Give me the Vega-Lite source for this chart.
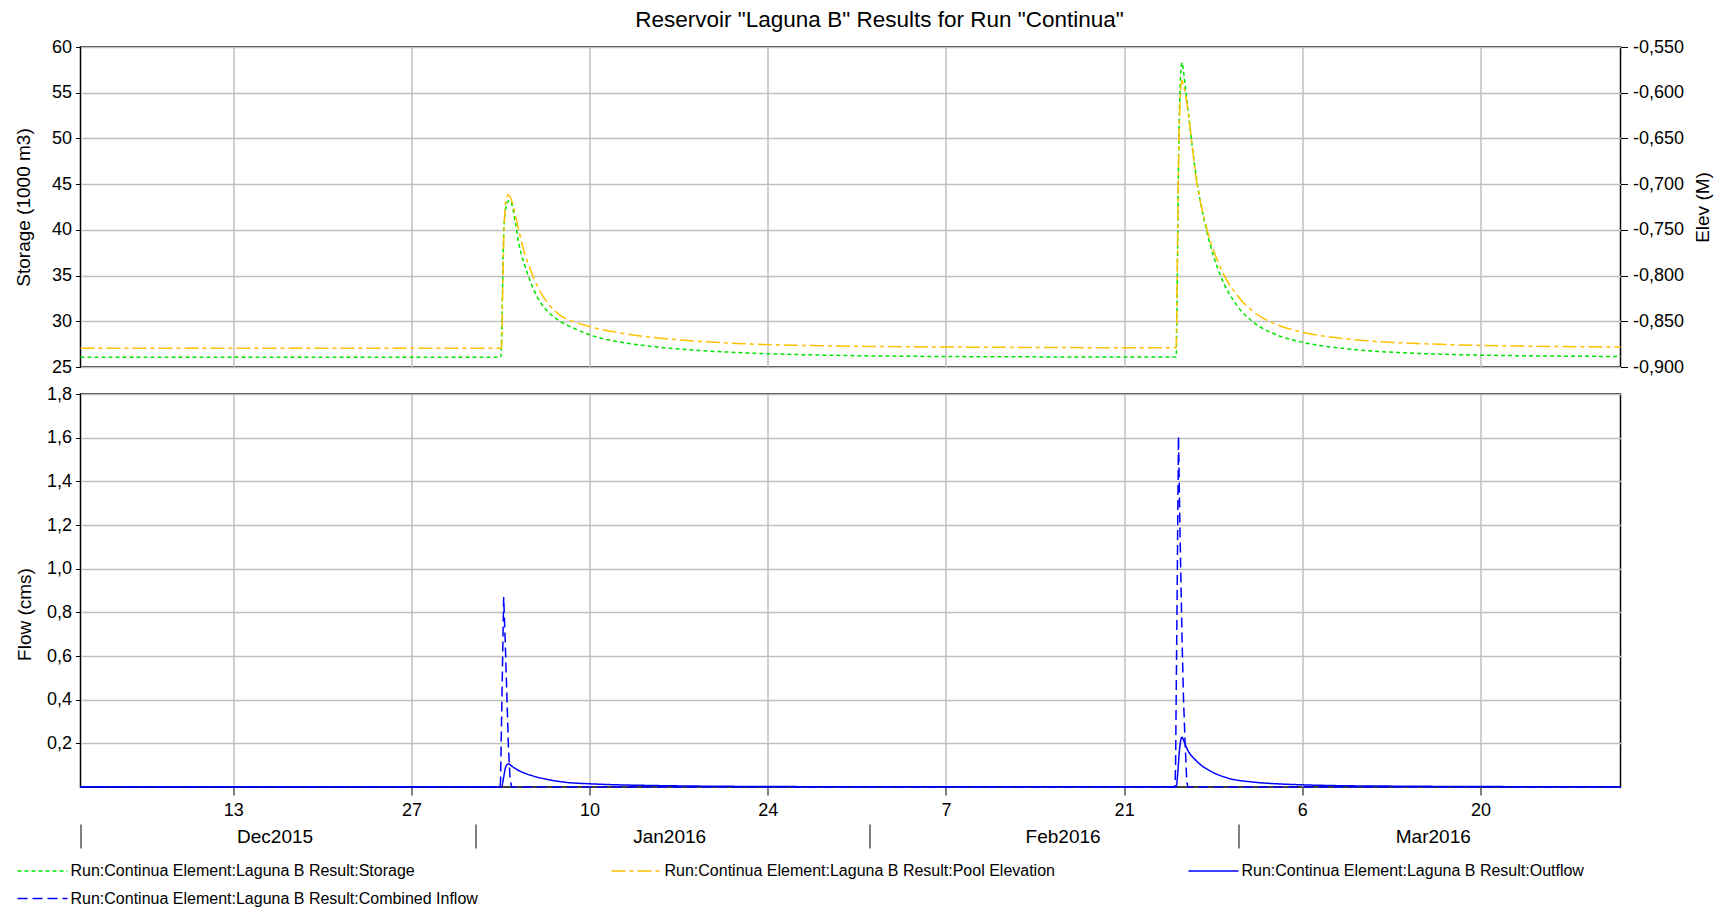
{
  "$schema": "https://vega.github.io/schema/vega-lite/v6.json",
  "padding": {"left": 13.5, "right": 8, "top": 8, "bottom": 0},
  "title": {"text": "Reservoir \"Laguna B\" Results for Run \"Continua\"", "fontSize": 22.5, "font": "Liberation Sans", "fontWeight": "normal", "color": "black", "anchor": "middle", "offset": 6, "dx": 16},
  "config": {
    "locale": {"number": {"decimal": ",", "thousands": ".", "grouping": [3], "currency": ["", ""], "minus": "-"}},
    "font": "Liberation Sans",
    "view": {"stroke": "black", "strokeWidth": 1.5},
    "axis": {"labelFont": "Liberation Sans", "labelFontSize": 18, "labelColor": "black", "titleFont": "Liberation Sans", "titleFontSize": 19, "titleFontWeight": "normal", "titleColor": "black", "tickColor": "black", "tickWidth": 1, "domain": false, "gridColor": "#c0c0c0", "gridWidth": 1.5, "gridOpacity": 1},
    "legend": {"orient": "none", "legendX": -64, "legendY": 816, "direction": "horizontal", "columns": 3, "symbolType": "stroke", "symbolSize": 2500, "symbolStrokeWidth": 1.5, "clipHeight": 16, "labelFontSize": 16, "labelFont": "Liberation Sans", "labelColor": "black", "labelLimit": 1000, "columnPadding": 132, "rowPadding": 11.5, "labelOffset": 2}
  },
  "spacing": 7,
  "vconcat": [
    {
      "width": 1540,
      "height": 320,
      "encoding": {
        "x": {"field": "t", "type": "temporal", "scale": {"domain": [{"year": 2015, "month": 12, "date": 1}, {"year": 2016, "month": 3, "date": 31}]},
          "axis": {"title": null, "labels": false, "ticks": false, "domain": false, "grid": true,
            "values": [{"year": 2015, "month": 12, "date": 13}, {"year": 2015, "month": 12, "date": 27}, {"year": 2016, "month": 1, "date": 10}, {"year": 2016, "month": 1, "date": 24}, {"year": 2016, "month": 2, "date": 7}, {"year": 2016, "month": 2, "date": 21}, {"year": 2016, "month": 3, "date": 6}, {"year": 2016, "month": 3, "date": 20}]}},
        "color": {"field": "s", "type": "nominal", "scale": {"domain": ["Storage", "Pool Elevation", "Outflow", "Combined Inflow"], "range": ["#00e600", "#ffc000", "#0000ff", "#0000ff"]}, "legend": {"title": null, "labelExpr": "'Run:Continua Element:Laguna B Result:' + datum.label"}},
        "strokeDash": {"field": "s", "type": "nominal", "scale": {"domain": ["Storage", "Pool Elevation", "Outflow", "Combined Inflow"], "range": [[4, 3], [14, 4, 4, 4], [1, 0], [10, 5]]}, "legend": {"title": null, "labelExpr": "'Run:Continua Element:Laguna B Result:' + datum.label"}}
      },
      "layer": [
        {
          "data": {"values": [
            {"t": "2015-12-01 00:00", "s": "Storage", "v": 26.06},
            {"t": "2016-01-03 00:00", "s": "Storage", "v": 26.06},
            {"t": "2016-01-03 01:00", "s": "Storage", "v": 26.3},
            {"t": "2016-01-03 03:00", "s": "Storage", "v": 31.0},
            {"t": "2016-01-03 06:00", "s": "Storage", "v": 39.6},
            {"t": "2016-01-03 10:00", "s": "Storage", "v": 42.4},
            {"t": "2016-01-03 14:00", "s": "Storage", "v": 43.1},
            {"t": "2016-01-03 18:00", "s": "Storage", "v": 43.2},
            {"t": "2016-01-04 04:00", "s": "Storage", "v": 40.84},
            {"t": "2016-01-04 10:00", "s": "Storage", "v": 38.65},
            {"t": "2016-01-04 16:00", "s": "Storage", "v": 37.2},
            {"t": "2016-01-05 02:00", "s": "Storage", "v": 35.37},
            {"t": "2016-01-05 14:00", "s": "Storage", "v": 33.54},
            {"t": "2016-01-06 03:00", "s": "Storage", "v": 32.08},
            {"t": "2016-01-06 22:00", "s": "Storage", "v": 30.8},
            {"t": "2016-01-07 17:00", "s": "Storage", "v": 29.97},
            {"t": "2016-01-08 18:00", "s": "Storage", "v": 29.24},
            {"t": "2016-01-10 01:00", "s": "Storage", "v": 28.5},
            {"t": "2016-01-12 04:00", "s": "Storage", "v": 27.78},
            {"t": "2016-01-14 18:00", "s": "Storage", "v": 27.27},
            {"t": "2016-01-18 17:00", "s": "Storage", "v": 26.8},
            {"t": "2016-01-22 00:00", "s": "Storage", "v": 26.56},
            {"t": "2016-01-26 00:00", "s": "Storage", "v": 26.37},
            {"t": "2016-02-01 00:00", "s": "Storage", "v": 26.22},
            {"t": "2016-02-09 00:00", "s": "Storage", "v": 26.13},
            {"t": "2016-02-17 00:00", "s": "Storage", "v": 26.1},
            {"t": "2016-02-25 02:00", "s": "Storage", "v": 26.09},
            {"t": "2016-02-25 04:00", "s": "Storage", "v": 33.0},
            {"t": "2016-02-25 06:30", "s": "Storage", "v": 47.0},
            {"t": "2016-02-25 09:30", "s": "Storage", "v": 55.5},
            {"t": "2016-02-25 13:00", "s": "Storage", "v": 58.3},
            {"t": "2016-02-25 16:00", "s": "Storage", "v": 57.3},
            {"t": "2016-02-25 19:00", "s": "Storage", "v": 55.9},
            {"t": "2016-02-25 22:00", "s": "Storage", "v": 54.34},
            {"t": "2016-02-26 17:00", "s": "Storage", "v": 45.4},
            {"t": "2016-02-27 12:00", "s": "Storage", "v": 39.8},
            {"t": "2016-02-28 13:00", "s": "Storage", "v": 35.1},
            {"t": "2016-02-29 21:00", "s": "Storage", "v": 31.71},
            {"t": "2016-03-02 04:00", "s": "Storage", "v": 29.89},
            {"t": "2016-03-04 00:00", "s": "Storage", "v": 28.5},
            {"t": "2016-03-05 23:00", "s": "Storage", "v": 27.72},
            {"t": "2016-03-08 17:00", "s": "Storage", "v": 27.11},
            {"t": "2016-03-11 02:00", "s": "Storage", "v": 26.79},
            {"t": "2016-03-14 00:00", "s": "Storage", "v": 26.55},
            {"t": "2016-03-18 00:00", "s": "Storage", "v": 26.36},
            {"t": "2016-03-24 00:00", "s": "Storage", "v": 26.22},
            {"t": "2016-03-31 00:00", "s": "Storage", "v": 26.15}
          ]},
          "mark": {"type": "line", "strokeWidth": 1.5, "interpolate": "monotone"},
          "encoding": {
            "y": {"field": "v", "type": "quantitative", "scale": {"domain": [25, 60], "nice": false, "zero": false},
              "axis": {"title": "Storage (1000 m3)", "values": [25, 30, 35, 40, 45, 50, 55, 60], "format": "d", "tickSize": 5, "labelPadding": 4, "titlePadding": 18, "grid": true}}
          }
        },
        {
          "data": {"values": [
            {"t": "2015-12-01 00:00", "s": "Pool Elevation", "v": -0.8795},
            {"t": "2016-01-03 02:00", "s": "Pool Elevation", "v": -0.8795},
            {"t": "2016-01-03 04:00", "s": "Pool Elevation", "v": -0.82},
            {"t": "2016-01-03 07:00", "s": "Pool Elevation", "v": -0.745},
            {"t": "2016-01-03 10:00", "s": "Pool Elevation", "v": -0.718},
            {"t": "2016-01-03 15:00", "s": "Pool Elevation", "v": -0.7117},
            {"t": "2016-01-03 22:00", "s": "Pool Elevation", "v": -0.7197},
            {"t": "2016-01-04 04:00", "s": "Pool Elevation", "v": -0.7343},
            {"t": "2016-01-04 10:00", "s": "Pool Elevation", "v": -0.7489},
            {"t": "2016-01-04 19:00", "s": "Pool Elevation", "v": -0.7708},
            {"t": "2016-01-05 08:00", "s": "Pool Elevation", "v": -0.7927},
            {"t": "2016-01-05 21:00", "s": "Pool Elevation", "v": -0.8109},
            {"t": "2016-01-06 16:00", "s": "Pool Elevation", "v": -0.8292},
            {"t": "2016-01-07 17:00", "s": "Pool Elevation", "v": -0.8437},
            {"t": "2016-01-09 00:00", "s": "Pool Elevation", "v": -0.8515},
            {"t": "2016-01-10 01:00", "s": "Pool Elevation", "v": -0.856},
            {"t": "2016-01-12 04:00", "s": "Pool Elevation", "v": -0.8623},
            {"t": "2016-01-14 18:00", "s": "Pool Elevation", "v": -0.8673},
            {"t": "2016-01-18 17:00", "s": "Pool Elevation", "v": -0.872},
            {"t": "2016-01-22 00:00", "s": "Pool Elevation", "v": -0.8745},
            {"t": "2016-01-26 00:00", "s": "Pool Elevation", "v": -0.8762},
            {"t": "2016-02-01 00:00", "s": "Pool Elevation", "v": -0.8775},
            {"t": "2016-02-09 00:00", "s": "Pool Elevation", "v": -0.8783},
            {"t": "2016-02-17 00:00", "s": "Pool Elevation", "v": -0.8788},
            {"t": "2016-02-25 02:00", "s": "Pool Elevation", "v": -0.879},
            {"t": "2016-02-25 04:00", "s": "Pool Elevation", "v": -0.8},
            {"t": "2016-02-25 06:30", "s": "Pool Elevation", "v": -0.68},
            {"t": "2016-02-25 09:30", "s": "Pool Elevation", "v": -0.61},
            {"t": "2016-02-25 13:00", "s": "Pool Elevation", "v": -0.5864},
            {"t": "2016-02-25 16:00", "s": "Pool Elevation", "v": -0.592},
            {"t": "2016-02-25 19:00", "s": "Pool Elevation", "v": -0.6},
            {"t": "2016-02-25 22:00", "s": "Pool Elevation", "v": -0.6102},
            {"t": "2016-02-26 17:00", "s": "Pool Elevation", "v": -0.698},
            {"t": "2016-02-27 12:00", "s": "Pool Elevation", "v": -0.7486},
            {"t": "2016-02-28 13:00", "s": "Pool Elevation", "v": -0.7905},
            {"t": "2016-02-29 21:00", "s": "Pool Elevation", "v": -0.8216},
            {"t": "2016-03-02 04:00", "s": "Pool Elevation", "v": -0.8397},
            {"t": "2016-03-04 00:00", "s": "Pool Elevation", "v": -0.8537},
            {"t": "2016-03-05 23:00", "s": "Pool Elevation", "v": -0.8619},
            {"t": "2016-03-08 17:00", "s": "Pool Elevation", "v": -0.868},
            {"t": "2016-03-11 02:00", "s": "Pool Elevation", "v": -0.8713},
            {"t": "2016-03-14 00:00", "s": "Pool Elevation", "v": -0.8737},
            {"t": "2016-03-18 00:00", "s": "Pool Elevation", "v": -0.8757},
            {"t": "2016-03-24 00:00", "s": "Pool Elevation", "v": -0.8773},
            {"t": "2016-03-31 00:00", "s": "Pool Elevation", "v": -0.8782}
          ]},
          "mark": {"type": "line", "strokeWidth": 1.5, "interpolate": "monotone"},
          "encoding": {
            "y": {"field": "v", "type": "quantitative", "scale": {"domain": [-0.9, -0.55], "nice": false, "zero": false},
              "axis": {"orient": "right", "title": "Elev (M)", "values": [-0.9, -0.85, -0.8, -0.75, -0.7, -0.65, -0.6, -0.55], "format": ".3f", "grid": false, "tickSize": 7, "labelPadding": 5, "titlePadding": 10, "titleAngle": 270, "titleBaseline": "top"}}
          }
        }
      ],
      "resolve": {"scale": {"y": "independent"}}
    },
    {
      "width": 1540,
      "height": 393,
      "encoding": {
        "y": {"field": "v", "type": "quantitative", "scale": {"domain": [0, 1.8], "nice": false},
          "axis": {"title": "Flow (cms)", "values": [0.2, 0.4, 0.6, 0.8, 1.0, 1.2, 1.4, 1.6, 1.8], "format": ".1f", "tickSize": 5, "labelPadding": 4, "titlePadding": 11.5, "titleY": 220, "grid": true}},
        "color": {"field": "s", "type": "nominal", "scale": {"domain": ["Storage", "Pool Elevation", "Outflow", "Combined Inflow"], "range": ["#00e600", "#ffc000", "#0000ff", "#0000ff"]}, "legend": {"title": null, "labelExpr": "'Run:Continua Element:Laguna B Result:' + datum.label"}},
        "strokeDash": {"field": "s", "type": "nominal", "scale": {"domain": ["Storage", "Pool Elevation", "Outflow", "Combined Inflow"], "range": [[4, 3], [14, 4, 4, 4], [1, 0], [10, 5]]}, "legend": {"title": null, "labelExpr": "'Run:Continua Element:Laguna B Result:' + datum.label"}}
      },
      "layer": [
        {
          "data": {"values": [
            {"t": "2015-12-01 00:00", "s": "Outflow", "v": 0},
            {"t": "2016-01-03 02:00", "s": "Outflow", "v": 0},
            {"t": "2016-01-03 06:00", "s": "Outflow", "v": 0.045},
            {"t": "2016-01-03 10:00", "s": "Outflow", "v": 0.093},
            {"t": "2016-01-03 15:00", "s": "Outflow", "v": 0.106},
            {"t": "2016-01-03 20:00", "s": "Outflow", "v": 0.098},
            {"t": "2016-01-04 00:00", "s": "Outflow", "v": 0.091},
            {"t": "2016-01-04 07:00", "s": "Outflow", "v": 0.08},
            {"t": "2016-01-04 22:00", "s": "Outflow", "v": 0.063},
            {"t": "2016-01-05 14:00", "s": "Outflow", "v": 0.05},
            {"t": "2016-01-06 22:00", "s": "Outflow", "v": 0.032},
            {"t": "2016-01-08 05:00", "s": "Outflow", "v": 0.021},
            {"t": "2016-01-10 01:00", "s": "Outflow", "v": 0.0146},
            {"t": "2016-01-12 04:00", "s": "Outflow", "v": 0.01},
            {"t": "2016-01-14 18:00", "s": "Outflow", "v": 0.007},
            {"t": "2016-01-18 17:00", "s": "Outflow", "v": 0.004},
            {"t": "2016-01-25 00:00", "s": "Outflow", "v": 0.002},
            {"t": "2016-02-01 00:00", "s": "Outflow", "v": 0.001},
            {"t": "2016-02-25 02:00", "s": "Outflow", "v": 0.001},
            {"t": "2016-02-25 05:00", "s": "Outflow", "v": 0.06},
            {"t": "2016-02-25 08:00", "s": "Outflow", "v": 0.16},
            {"t": "2016-02-25 13:00", "s": "Outflow", "v": 0.228},
            {"t": "2016-02-25 16:00", "s": "Outflow", "v": 0.215},
            {"t": "2016-02-25 19:00", "s": "Outflow", "v": 0.197},
            {"t": "2016-02-25 22:00", "s": "Outflow", "v": 0.179},
            {"t": "2016-02-26 17:00", "s": "Outflow", "v": 0.118},
            {"t": "2016-02-27 18:30", "s": "Outflow", "v": 0.073},
            {"t": "2016-02-29 02:00", "s": "Outflow", "v": 0.042},
            {"t": "2016-03-02 04:00", "s": "Outflow", "v": 0.0224},
            {"t": "2016-03-04 00:00", "s": "Outflow", "v": 0.0146},
            {"t": "2016-03-05 23:00", "s": "Outflow", "v": 0.01},
            {"t": "2016-03-09 00:00", "s": "Outflow", "v": 0.006},
            {"t": "2016-03-13 00:00", "s": "Outflow", "v": 0.004},
            {"t": "2016-03-20 00:00", "s": "Outflow", "v": 0.002},
            {"t": "2016-03-31 00:00", "s": "Outflow", "v": 0.001}
          ]},
          "mark": {"type": "line", "strokeWidth": 1.5, "interpolate": "monotone"},
          "encoding": {
            "x": {"field": "t", "type": "temporal", "scale": {"domain": [{"year": 2015, "month": 12, "date": 1}, {"year": 2016, "month": 3, "date": 31}]},
              "axis": {"orient": "bottom", "title": null, "format": "%-d", "tickSize": 8, "labelPadding": 6, "grid": true, "domain": false,
                "values": [{"year": 2015, "month": 12, "date": 13}, {"year": 2015, "month": 12, "date": 27}, {"year": 2016, "month": 1, "date": 10}, {"year": 2016, "month": 1, "date": 24}, {"year": 2016, "month": 2, "date": 7}, {"year": 2016, "month": 2, "date": 21}, {"year": 2016, "month": 3, "date": 6}, {"year": 2016, "month": 3, "date": 20}]}}
          }
        },
        {
          "data": {"values": [
            {"t": "2015-12-01 00:00", "s": "Combined Inflow", "v": 0},
            {"t": "2016-01-02 23:00", "s": "Combined Inflow", "v": 0},
            {"t": "2016-01-03 00:00", "s": "Combined Inflow", "v": 0.02},
            {"t": "2016-01-03 03:00", "s": "Combined Inflow", "v": 0.45},
            {"t": "2016-01-03 06:00", "s": "Combined Inflow", "v": 0.87},
            {"t": "2016-01-03 09:00", "s": "Combined Inflow", "v": 0.66},
            {"t": "2016-01-03 12:00", "s": "Combined Inflow", "v": 0.42},
            {"t": "2016-01-03 15:00", "s": "Combined Inflow", "v": 0.18},
            {"t": "2016-01-03 18:00", "s": "Combined Inflow", "v": 0.04},
            {"t": "2016-01-03 21:00", "s": "Combined Inflow", "v": 0},
            {"t": "2016-02-25 00:00", "s": "Combined Inflow", "v": 0},
            {"t": "2016-02-25 01:00", "s": "Combined Inflow", "v": 0.1},
            {"t": "2016-02-25 04:00", "s": "Combined Inflow", "v": 0.9},
            {"t": "2016-02-25 06:30", "s": "Combined Inflow", "v": 1.606},
            {"t": "2016-02-25 09:30", "s": "Combined Inflow", "v": 1.15},
            {"t": "2016-02-25 13:00", "s": "Combined Inflow", "v": 0.7},
            {"t": "2016-02-25 16:00", "s": "Combined Inflow", "v": 0.4},
            {"t": "2016-02-25 19:00", "s": "Combined Inflow", "v": 0.2},
            {"t": "2016-02-25 22:00", "s": "Combined Inflow", "v": 0.03},
            {"t": "2016-02-26 00:00", "s": "Combined Inflow", "v": 0},
            {"t": "2016-03-31 00:00", "s": "Combined Inflow", "v": 0}
          ]},
          "mark": {"type": "line", "strokeWidth": 1.5},
          "encoding": {
            "x": {"field": "t", "type": "temporal", "scale": {"domain": [{"year": 2015, "month": 12, "date": 1}, {"year": 2016, "month": 3, "date": 31}]},
              "axis": {"orient": "bottom", "title": null, "labels": false, "grid": false, "domain": false, "offset": 37, "tickSize": 24, "tickWidth": 1,
                "values": [{"year": 2015, "month": 12, "date": 1}, {"year": 2016, "month": 1, "date": 1}, {"year": 2016, "month": 2, "date": 1}, {"year": 2016, "month": 3, "date": 1}]}}
          }
        },
        {
          "data": {"values": [
            {"t": "2015-12-01 00:00", "s": "Outflow", "v": 0},
            {"t": "2016-03-31 00:00", "s": "Outflow", "v": 0}
          ]},
          "mark": {"type": "line", "opacity": 0},
          "encoding": {
            "x": {"field": "t", "type": "temporal", "scale": {"domain": [{"year": 2015, "month": 12, "date": 1}, {"year": 2016, "month": 3, "date": 31}]},
              "axis": {"orient": "bottom", "title": null, "ticks": false, "tickSize": 0, "grid": false, "domain": false, "offset": 37, "labelPadding": 3, "format": "%b%Y", "labelFontSize": 19,
                "values": [{"year": 2015, "month": 12, "date": 16, "hours": 6}, {"year": 2016, "month": 1, "date": 16, "hours": 6}, {"year": 2016, "month": 2, "date": 16, "hours": 4}, {"year": 2016, "month": 3, "date": 16, "hours": 6}]}}
          }
        }
      ],
      "resolve": {"axis": {"x": "independent"}}
    }
  ]
}
